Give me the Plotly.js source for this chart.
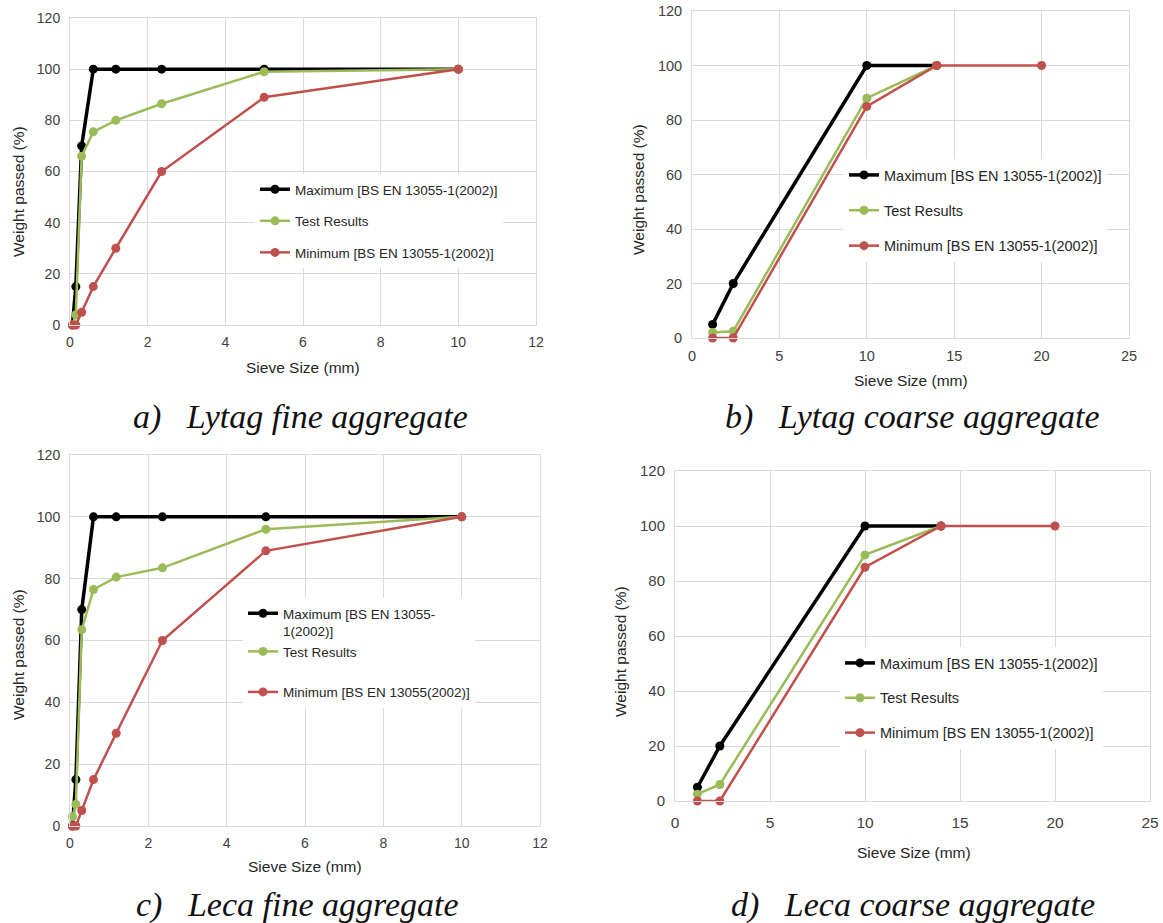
<!DOCTYPE html>
<html>
<head>
<meta charset="utf-8">
<script src="https://cdn.plot.ly/plotly-3.0.1.min.js"></script>
<style>html,body{margin:0;padding:0;background:#fff;}#chart{width:1163px;height:923px;}</style>
</head>
<body>
<div id="chart"></div>
<script>
// ---- data ----
const fineSieve = [0.063, 0.15, 0.3, 0.6, 1.18, 2.36, 5, 10];
const coarseSieveMax = [1.18, 2.36, 10, 14];
const coarseSieveTest = [1.18, 2.36, 10, 14];
const coarseSieveMin = [1.18, 2.36, 10, 14, 20];

const fineMax = [0, 15, 70, 100, 100, 100, 100, 100];
const lytagFineTest = [0, 4, 66, 75.5, 80, 86.5, 99, 100];
const fineMinA = [0, 0, 5, 15, 30, 60, 89, 100];

const coarseMax = [5, 20, 100, 100];
const lytagCoarseTest = [2, 2.5, 88, 100];
const coarseMin = [0, 0, 85, 100, 100];

const lecaFineTest = [3, 7, 63.5, 76.5, 80.5, 83.5, 96, 100];
const fineMinC = [0, 0, 5, 15, 30, 60, 89, 100];

const lecaCoarseTest = [2.5, 6, 89.5, 100];

const nameMax = "Maximum [BS EN 13055-1(2002)]";
const nameMaxWrapped = "Maximum [BS EN 13055-<br>1(2002)]";
const nameTest = "Test Results";
const nameMin = "Minimum [BS EN 13055-1(2002)]";
const nameMinC = "Minimum [BS EN 13055(2002)]";

const xTitle = "Sieve Size (mm)";
const yTitle = "Weight passed (%)";
const captions = ["a)\u00a0\u00a0 Lytag fine aggregate", "b)\u00a0\u00a0 Lytag coarse aggregate",
                  "c)\u00a0\u00a0 Leca fine aggregate", "d)\u00a0\u00a0 Leca coarse aggregate"];

// ---- styling ----
const BLACK = "#000000", GREEN = "#9BBB59", RED = "#C0504D", BLUE = "#4F81BD";
const W = 1163, H = 923;
const px = v => v / W, py = v => 1 - v / H;
const FONT = "Liberation Sans, Arial, sans-serif";

function set(ax, leg, xs, maxY, testX, testY, minX, minY, maxName, minName, group) {
  const xa = ax === 1 ? "x" : "x" + ax, ya = ax === 1 ? "y" : "y" + ax;
  return [
    {x: xs, y: maxY, xaxis: xa, yaxis: ya, mode: "lines", showlegend: false,
     line: {color: BLUE, width: 1.5}, hoverinfo: "skip", cliponaxis: false},
    {x: xs, y: maxY, xaxis: xa, yaxis: ya, name: maxName, mode: "lines+markers", legend: leg,
     legendgroup: group ? "g1" : "max", line: {color: BLACK, width: 3.5}, marker: {color: BLACK, size: 9}, cliponaxis: false},
    {x: testX, y: testY, xaxis: xa, yaxis: ya, name: nameTest, mode: "lines+markers", legend: leg,
     legendgroup: group ? "g1" : "test", line: {color: GREEN, width: 2.5}, marker: {color: GREEN, size: 9}, cliponaxis: false},
    {x: minX, y: minY, xaxis: xa, yaxis: ya, name: minName, mode: "lines+markers", legend: leg,
     legendgroup: group ? "g2" : "min", line: {color: RED, width: 2.5}, marker: {color: RED, size: 9}, cliponaxis: false}
  ];
}

const data = [].concat(
  set(1, "legend", fineSieve, fineMax, fineSieve, lytagFineTest, fineSieve, fineMinA, nameMax, nameMin, false),
  set(2, "legend2", coarseSieveMax, coarseMax, coarseSieveTest, lytagCoarseTest, coarseSieveMin, coarseMin, nameMax, nameMin, false),
  set(3, "legend3", fineSieve, fineMax, fineSieve, lecaFineTest, fineSieve, fineMinC, nameMaxWrapped, nameMinC, true),
  set(4, "legend4", coarseSieveMax, coarseMax, coarseSieveTest, lecaCoarseTest, coarseSieveMin, coarseMin, nameMax, nameMin, false)
);

function tf(size) { return {family: FONT, size: size, color: "#404040"}; }
function xax(dom, anchor, range, dtick, fs, standoff) {
  return {domain: dom, anchor: anchor, range: range, dtick: dtick, tick0: 0, showgrid: true,
    gridcolor: "#d9d9d9", showline: true, mirror: true, linecolor: "#d9d9d9", zeroline: false,
    ticks: "", tickfont: tf(fs), ticklabelstandoff: standoff};
}
function yax(dom, anchor, fs) {
  return {domain: dom, anchor: anchor, range: [0, 120], dtick: 20, tick0: 0, showgrid: true,
    gridcolor: "#d9d9d9", showline: true, mirror: true, linecolor: "#d9d9d9", zeroline: false,
    ticks: "", tickfont: tf(fs), ticklabelstandoff: 6};
}
function leg(x, y, gap, fs, extra) {
  return Object.assign({x: px(x), y: py(y), xanchor: "left", yanchor: "top", xref: "paper", yref: "paper",
    bgcolor: "#ffffff", borderwidth: 0, tracegroupgap: gap, traceorder: "grouped",
    font: {family: FONT, size: fs, color: "#262626"}}, extra || {});
}
const capFont = {family: "Liberation Serif, Times New Roman, serif", size: 34, color: "#111"};
function cap(text, x, y) {
  return {text: "<i>" + text + "</i>", x: px(x), y: py(y), xref: "paper", yref: "paper",
    xanchor: "center", yanchor: "middle", showarrow: false, font: capFont};
}
function atitle(text, x, y, rot, fs) {
  return {text: text, x: px(x), y: py(y), xref: "paper", yref: "paper", textangle: rot,
    xanchor: "center", yanchor: "middle", showarrow: false, font: {family: FONT, size: fs, color: "#262626"}};
}

const layout = {
  width: W, height: H, margin: {l: 0, r: 0, t: 0, b: 0}, paper_bgcolor: "#fff", plot_bgcolor: "#fff",
  xaxis: xax([px(70), px(536)], "y", [0, 12], 2, 14, 4),
  yaxis: yax([py(325), py(18)], "x", 14),
  xaxis2: xax([px(692), px(1129)], "y2", [0, 25], 5, 14.5, 5),
  yaxis2: yax([py(338), py(11)], "x2", 14.5),
  xaxis3: xax([px(70), px(540)], "y3", [0, 12], 2, 14, 4),
  yaxis3: yax([py(826), py(455)], "x3", 14),
  xaxis4: xax([px(675), px(1150)], "y4", [0, 25], 5, 15.5, 7),
  yaxis4: yax([py(801), py(471)], "x4", 15),
  legend: leg(255, 174, 11, 13.5),
  legend2: leg(844, 159, 13.5, 14.5),
  legend3: leg(243, 598, 20, 13.5, {valign: "top"}),
  legend4: leg(840, 647, 13, 14.5),
  annotations: [
    cap(captions[0], 300, 417), cap(captions[1], 912, 417), cap(captions[2], 297, 905), cap(captions[3], 913, 905),
    atitle(xTitle, 303, 367, 0, 15.5), atitle(xTitle, 911, 381, 0, 15.5),
    atitle(xTitle, 305, 866, 0, 15.5), atitle(xTitle, 914, 852, 0, 15.5),
    atitle(yTitle, 18, 192, -90, 15.5), atitle(yTitle, 638, 190, -90, 15.5),
    atitle(yTitle, 18, 655, -90, 15.5), atitle(yTitle, 620, 652, -90, 15.5)
  ],
  showlegend: true
};

Plotly.newPlot("chart", data, layout, {staticPlot: true, displayModeBar: false});
</script>
</body>
</html>
